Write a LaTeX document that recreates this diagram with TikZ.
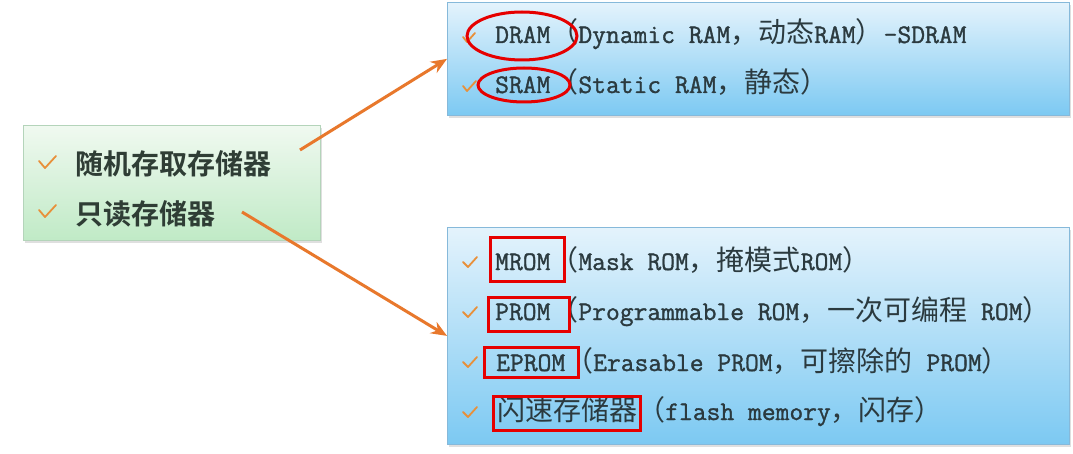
\documentclass[tikz,border=0pt]{standalone}
\usepackage{fontspec}
\usetikzlibrary{arrows.meta,shadows}
\newfontfamily\mlatfont{Latin Modern Mono}[FakeBold=1.2]
\newfontfamily\mzhfont{Noto Sans CJK SC}[Scale=1.045,BoldFont={Noto Sans CJK SC Bold}]
\newcommand\mz[1]{{\mzhfont #1}}
\definecolor{txt}{HTML}{2B3A3F}
\definecolor{gtxt}{HTML}{2F3D35}
\definecolor{bluetop}{HTML}{E4F3FC}
\definecolor{bluebot}{HTML}{7CC9F2}
\definecolor{blueedge}{HTML}{86B9DA}
\definecolor{greentop}{HTML}{F0F9F0}
\definecolor{greenbot}{HTML}{C0EAC6}
\definecolor{greenedge}{HTML}{B4D4BA}
\definecolor{arrowc}{HTML}{E8782C}
\definecolor{checkc}{HTML}{E8903A}
\definecolor{markred}{HTML}{E60000}
\tikzset{
  bluebox/.style={rectangle, draw=blueedge, line width=0.8pt, top color=bluetop, bottom color=bluebot,
    inner sep=0pt, anchor=north west, drop shadow={opacity=0.25, shadow xshift=2pt, shadow yshift=-3pt}},
  greenbox/.style={rectangle, draw=greenedge, line width=0.8pt, top color=greentop, bottom color=greenbot,
    inner sep=0pt, anchor=north west, drop shadow={opacity=0.25, shadow xshift=2pt, shadow yshift=-3pt}},
  itemtext/.style={anchor=base west, inner sep=0pt, text=txt, font=\mlatfont\fontsize{26.8}{26.8}\selectfont},
  lefttext/.style={anchor=base west, inner sep=0pt, text=gtxt, font=\mzhfont\bfseries\fontsize{26.8}{26.8}\selectfont},
  checkmark/.style={draw=checkc, line width=1.8pt, line cap=round, line join=round},
  arrowline/.style={draw=arrowc, line width=3pt, -{Stealth[length=16pt,width=13pt]}},
  redmark/.style={draw=markred, line width=3pt},
}
\begin{document}
\begin{tikzpicture}[x=1pt,y=-1pt]
\useasboundingbox (0,0) rectangle (1073,454);
\fill[white] (0,0) rectangle (1073,454);

% boxes
\node[bluebox, minimum width=622pt, minimum height=113pt] (ram) at (447,2) {};
\node[bluebox, minimum width=622pt, minimum height=217pt] (rom) at (447,227) {};
\node[greenbox, minimum width=297pt, minimum height=115pt] (mem) at (23,125) {};

% left texts
\node[lefttext] (t-ram) at (75,175) {随机存取存储器};
\node[lefttext] (t-rom) at (75,225) {只读存储器};
\draw[checkmark] (39,161) -- (45,168) -- (56,156);
\draw[checkmark] (39,210) -- (45,217) -- (56,205);

% top box texts
\node[itemtext] (dram) at (495,43) {DRAM\mz{（}Dynamic RAM\mz{，动态}RAM\mz{）}-SDRAM};
\node[itemtext] (sram) at (495,93) {SRAM\mz{（}Static RAM\mz{，静态）}};
\draw[checkmark] (463,37) -- (467,42) -- (475,33);
\draw[checkmark] (463,86) -- (467,91) -- (476,81);

% bottom box texts
\node[itemtext] (mrom) at (495,270) {MROM\mz{（}Mask ROM\mz{，掩模式}ROM\mz{）}};
\node[itemtext] (prom) at (495,320) {PROM\mz{（}Programmable ROM\mz{，一次可编程} ROM\mz{）}};
\node[itemtext] (eprom) at (496,371) {EPROM\mz{（}Erasable PROM\mz{，可擦除的} PROM\mz{）}};
\node[itemtext] (flash) at (497,420) {\mz{闪速存储器（}flash memory\mz{，闪存）}};
\foreach \yy in {262,312,362,412}{
  \draw[checkmark] (463,\yy) -- (468,\yy+5) -- (477,\yy-5);
}

% red marks
\draw[redmark] (522,36) ellipse [x radius=55, y radius=24];
\draw[redmark] (524,85) ellipse [x radius=46, y radius=17];
\draw[redmark] (490,238) rectangle (564,282);
\draw[redmark] (488,297) rectangle (569,331);
\draw[redmark] (484,347) rectangle (578,377);
\draw[redmark] (493,396) rectangle (640,430);

% connectors
\coordinate (s1) at (300,150);
\coordinate (s2) at (242,212);
\draw[arrowline] (s1) -- (ram.west);
\draw[arrowline] (s2) -- (rom.west);
\end{tikzpicture}
\end{document}
